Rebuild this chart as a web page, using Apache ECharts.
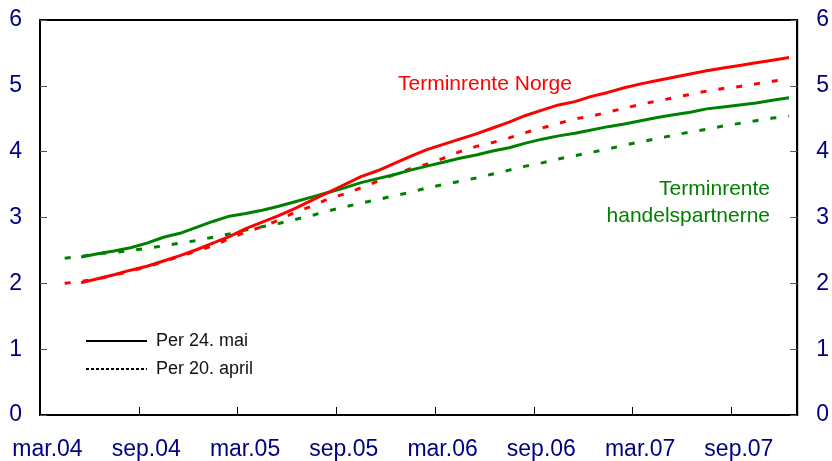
<!DOCTYPE html>
<html>
<head>
<meta charset="utf-8">
<script src="https://cdn.jsdelivr.net/npm/echarts@6/dist/echarts.min.js"></script>
<style>
  html, body { margin: 0; padding: 0; background: #fff; }
  #chart { width: 832px; height: 461px; }
</style>
</head>
<body>
<div id="chart"></div>
<script>
"use strict";

//
// Data (month index 0 = mar.04, values in percent)
//
const x_labels = ["mar.04", "sep.04", "mar.05", "sep.05", "mar.06", "sep.06", "mar.07", "sep.07"];

// Per 24. mai, first point at month 2.5
const start_mai = 2.5;
const norge_mai = [
  2.01, 2.07, 2.13, 2.20, 2.26, 2.34, 2.42, 2.51, 2.61, 2.71,
  2.83, 2.93, 3.03, 3.14, 3.26, 3.38, 3.50, 3.62, 3.71, 3.82,
  3.93, 4.03, 4.11, 4.19, 4.27, 4.36, 4.45, 4.55, 4.63, 4.71,
  4.76, 4.84, 4.90, 4.97, 5.03, 5.08, 5.13, 5.18, 5.23, 5.27,
  5.31, 5.35, 5.39, 5.43,
];
const handel_mai = [
  2.40, 2.45, 2.49, 2.54, 2.61, 2.70, 2.76, 2.85, 2.94, 3.02,
  3.06, 3.11, 3.17, 3.24, 3.31, 3.38, 3.45, 3.53, 3.59, 3.65,
  3.72, 3.78, 3.84, 3.90, 3.95, 4.01, 4.06, 4.13, 4.19, 4.24,
  4.28, 4.33, 4.38, 4.42, 4.47, 4.52, 4.56, 4.60, 4.65, 4.68,
  4.71, 4.74, 4.78, 4.82,
];

// Per 20. april, first point at month 1.5
const start_april = 1.5;
const norge_april = [
  2.00, 2.03, 2.07, 2.12, 2.19, 2.25, 2.33, 2.41, 2.49, 2.57,
  2.68, 2.78, 2.86, 2.96, 3.08, 3.17, 3.28, 3.36, 3.45, 3.55,
  3.65, 3.74, 3.81, 3.90, 4.00, 4.08, 4.14, 4.21, 4.29, 4.36,
  4.43, 4.50, 4.54, 4.60, 4.66, 4.72, 4.77, 4.82, 4.87, 4.92,
  4.96, 4.99, 5.03, 5.07, 5.10,
];
const handel_april = [
  2.38, 2.41, 2.45, 2.47, 2.50, 2.53, 2.57, 2.61, 2.65, 2.70,
  2.75, 2.81, 2.86, 2.91, 2.97, 3.03, 3.10, 3.16, 3.22, 3.27,
  3.33, 3.38, 3.45, 3.50, 3.55, 3.60, 3.66, 3.72, 3.78, 3.83,
  3.89, 3.94, 3.99, 4.04, 4.10, 4.15, 4.20, 4.25, 4.30, 4.34,
  4.39, 4.43, 4.47, 4.51, 4.54,
];

//
// Helpers
//
const to_pairs = (start, values) => values.map((v, i) => [start + i, v]);

const font = "'Liberation Sans', Arial, sans-serif";
const navy = "#000080";
const red = "#ff0000";
const green = "#008000";
const dash = [6, 12];

function line_series(name, data, color, type) {
  return {
    type: "line",
    name: name,
    data: data,
    showSymbol: false,
    symbol: "none",
    silent: true,
    animation: false,
    lineStyle: { color: color, width: 3, type: type, cap: "butt" },
    z: 3,
  };
}

function y_axis(position) {
  return {
    type: "value",
    position: position,
    min: 0,
    max: 6,
    interval: 1,
    axisLine: { show: true, lineStyle: { color: "#000", width: 2 } },
    axisTick: { show: true, inside: true, length: 7, lineStyle: { color: "#555", width: 1 } },
    axisLabel: {
      margin: position === "left" ? 18 : 19,
      color: navy,
      fontFamily: font,
      fontSize: 23,
    },
    splitLine: { show: false },
  };
}

function green_label(text, top) {
  return {
    type: "text",
    right: 62,
    top: top,
    style: { text: text, fill: green, font: "21px " + font },
  };
}

//
// Chart
//
const chart = echarts.init(document.getElementById("chart"), null, { renderer: "canvas" });

chart.setOption({
  animation: false,
  backgroundColor: "#fff",
  grid: {
    left: 40,
    right: 34,
    top: 20,
    bottom: 46,
    show: true,
    borderColor: "#000",
    borderWidth: 2,
    containLabel: false,
  },
  xAxis: {
    type: "value",
    min: 0,
    max: 46,
    interval: 6,
    axisLine: { show: true, lineStyle: { color: "#000", width: 2 } },
    axisTick: { show: true, inside: true, length: 8, lineStyle: { color: "#000", width: 1 } },
    axisLabel: {
      margin: 23,
      color: navy,
      fontFamily: font,
      fontSize: 23,
      padding: [0, 0, 0, 15],
      showMaxLabel: false,
      formatter: (v) => (v % 6 === 0 && v / 6 < x_labels.length ? x_labels[v / 6] : ""),
    },
    splitLine: { show: false },
  },
  yAxis: [y_axis("left"), y_axis("right")],
  legend: {
    orient: "vertical",
    left: 85,
    top: 332,
    padding: 0,
    itemWidth: 61,
    itemHeight: 14,
    itemGap: 10,
    itemStyle: { opacity: 0 },
    data: ["Per 24. mai", "Per 20. april"],
    textStyle: { fontFamily: font, fontSize: 18, color: "#111", padding: [0, 0, 0, 4] },
    selectedMode: false,
  },
  graphic: [
    {
      type: "text",
      left: 398,
      top: 74,
      style: { text: "Terminrente Norge", fill: red, font: "21px " + font },
    },
    green_label("Terminrente", 179),
    green_label("handelspartnerne", 206),
  ],
  series: [
    line_series("norge_april", to_pairs(start_april, norge_april), red, dash),
    line_series("handel_april", to_pairs(start_april, handel_april), green, dash),
    line_series("handel_mai", to_pairs(start_mai, handel_mai), green, "solid"),
    line_series("norge_mai", to_pairs(start_mai, norge_mai), red, "solid"),
    // legend-only series
    {
      type: "line",
      name: "Per 24. mai",
      data: [],
      symbol: "none",
      itemStyle: { color: "#000" },
      lineStyle: { color: "#000", width: 1, type: "solid" },
    },
    {
      type: "line",
      name: "Per 20. april",
      data: [],
      symbol: "none",
      itemStyle: { color: "#000" },
      lineStyle: { color: "#000", width: 1, type: [3, 2] },
    },
  ],
});
</script>
</body>
</html>
